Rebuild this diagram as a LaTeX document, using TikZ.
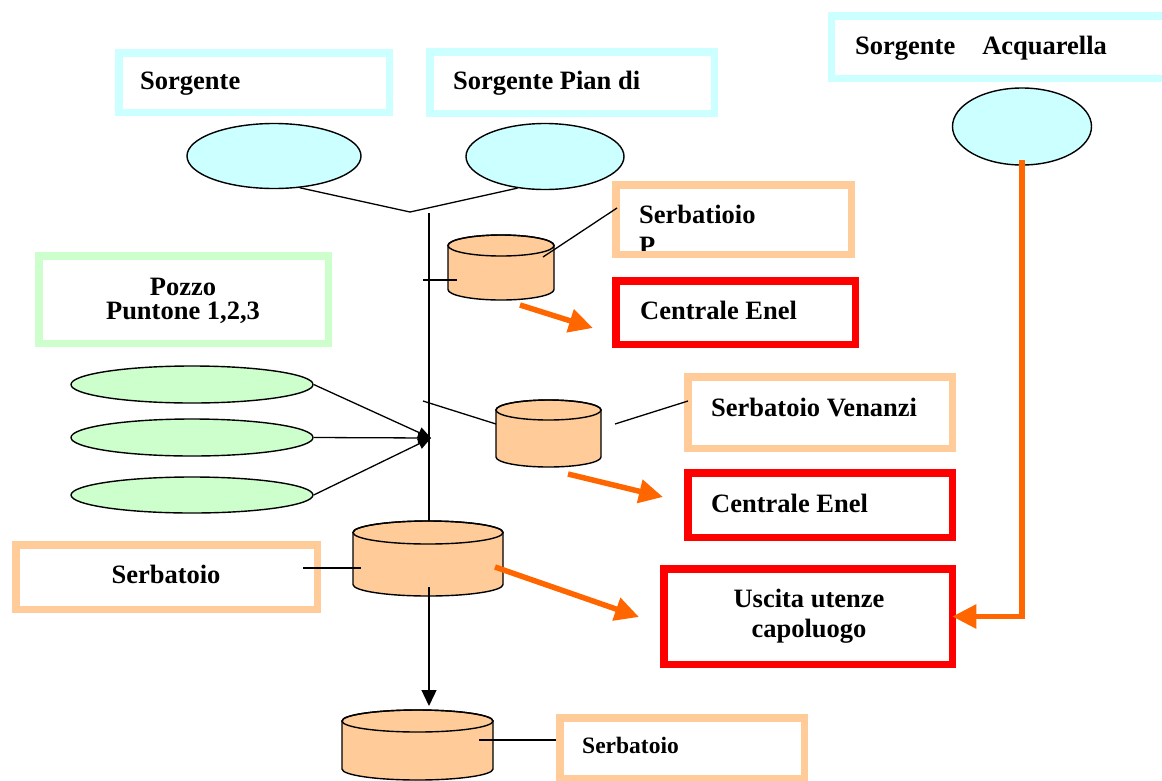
\documentclass[tikz,border=0pt]{standalone}
\usepackage{fontspec}
\setmainfont{Liberation Serif}
\usetikzlibrary{arrows.meta,shapes.geometric}
\definecolor{cyanb}{HTML}{CCFFFF}
\definecolor{greenb}{HTML}{CCFFCC}
\definecolor{orangeb}{HTML}{FFCC99}
\definecolor{redb}{HTML}{FF0000}
\definecolor{orangea}{HTML}{FF6600}
\tikzset{
  box/.style={draw, line width=7.5pt, inner sep=0pt, outer sep=0pt},
  cyanbox/.style={box, draw=cyanb},
  greenbox/.style={box, draw=greenb},
  orangebox/.style={box, draw=orangeb},
  redbox/.style={box, draw=redb},
  lbl/.style={font=\fontsize{26.5}{30}\selectfont\bfseries, inner sep=0pt, anchor=base west},
  clbl/.style={font=\fontsize{26.5}{24}\selectfont\bfseries, inner sep=0pt, align=center},
  blueell/.style={ellipse, draw, line width=1.4pt, fill=cyanb, inner sep=0pt},
  greenell/.style={ellipse, draw, line width=1.4pt, fill=greenb, inner sep=0pt},
  tankfill/.style={fill=orangeb, draw=black, line width=1.4pt},
  conn/.style={draw=black, line width=1.3pt},
  darrow/.style={conn, -{Triangle[length=16pt,width=15pt]}},
  garrow/.style={conn, -{Triangle[length=13pt,width=11pt]}},
  oarrow/.style={draw=orangea, line width=5.5pt, -{Triangle[length=24pt,width=23pt]}},
}
\newcommand\drawtank[6]{%
  \filldraw[tankfill] (#2-#5,#3) -- (#2-#5,#4)
    arc[start angle=180,end angle=0,x radius=#5,y radius=#6]
    -- (#2+#5,#3) arc[start angle=0,end angle=-180,x radius=#5,y radius=#6] -- cycle;
  \draw[line width=1.4pt] (#2,#3) ellipse[x radius=#5,y radius=#6];
  \node[inner sep=0pt, outer sep=0pt, minimum width=2*#5, minimum height=#4-#3+2*#6] (#1) at (#2,{(#3+#4)/2}) {};
}
\begin{document}
\begin{tikzpicture}[x=1pt,y=1pt,yscale=-1]
\useasboundingbox (0,0) rectangle (1162,780);
\clip (0,0) rectangle (1162,780);

% boxes
\node[cyanbox, minimum width=270.5, minimum height=59.5] (b1) at (254,82.5) {};
\node[cyanbox, minimum width=284.5, minimum height=61.5] (b2) at (572,82.5) {};
\node[cyanbox, minimum width=377, minimum height=62.5] (b3) at (1020,47) {};
\node[orangebox, minimum width=235.5, minimum height=69.5] (b4) at (733.5,219.5) {};
\node[redbox, minimum width=239.5, minimum height=63.5] (b5) at (735.5,312.5) {};
\node[greenbox, minimum width=289.5, minimum height=87.5] (b6) at (183.5,299.5) {};
\node[orangebox, minimum width=264.5, minimum height=71.5] (b7) at (820,412.5) {};
\node[redbox, minimum width=264.5, minimum height=64.5] (b8) at (820,505) {};
\node[redbox, minimum width=288.5, minimum height=95.5] (b9) at (808,616.5) {};
\node[orangebox, minimum width=301.5, minimum height=64.5] (b10) at (166.5,577) {};
\node[orangebox, minimum width=244.5, minimum height=60.5] (b11) at (682,748) {};

% texts
\node[lbl] (t-b1) at (140,89) {Sorgente};
\node[lbl] (t-b2) at (453,89) {Sorgente Pian di};
\node[lbl] (t-b3) at (855,54) {Sorgente\hspace{27pt}Acquarella};
\node[lbl] (t-b4) at (639,223) {Serbatioio};
\begin{scope}
  \clip (615,184) rectangle (852,250);
  \node[lbl] (t-b4b) at (639,254) {P};
\end{scope}
\node[lbl] (t-b5) at (640,319) {Centrale Enel};
\node[clbl, anchor=base] (t-b6) at (183,319) {Pozzo\\Puntone 1,2,3};
\node[lbl] (t-b7) at (711,416) {Serbatoio Venanzi};
\node[lbl] (t-b8) at (711,512) {Centrale Enel};
\node[font=\fontsize{26.5}{30}\selectfont\bfseries, inner sep=0pt, align=center, anchor=base] (t-b9) at (809,637) {Uscita utenze\\capoluogo};
\node[lbl, anchor=base] (t-b10) at (166,583) {Serbatoio};
\node[lbl, font=\fontsize{23.5}{28}\selectfont\bfseries] (t-b11) at (582,753) {Serbatoio};

% ellipses
\node[blueell, minimum width=174, minimum height=65] (e1) at (274,156) {};
\node[blueell, minimum width=158, minimum height=66] (e2) at (545,156.5) {};
\node[blueell, minimum width=139, minimum height=77] (e3) at (1022,126.5) {};
\node[greenell, minimum width=242, minimum height=37] (g1) at (192,384.5) {};
\node[greenell, minimum width=242, minimum height=37] (g2) at (192,437.5) {};
\node[greenell, minimum width=242, minimum height=36] (g3) at (192,495) {};

% tanks
\drawtank{t1}{501}{245.5}{289.5}{53}{10.5}
\drawtank{t2}{548.5}{410}{457}{52.5}{10}
\drawtank{t3}{428}{532.5}{584.5}{75}{11.5}
\drawtank{t4}{417.5}{721}{769}{75.5}{11}

% black connectors
\coordinate (vj) at (410,212);
\coordinate (vtop) at (429,213);
\coordinate (vbot) at (429,521);
\path[conn] (e1.-51) -- (vj) -- (e2.-131);
\path[conn] (vtop) -- (vbot);
\coordinate (k1a) at (423,280); \coordinate (k1b) at (457,280);
\path[conn] (k1a) -- (k1b);
\coordinate (c1a) at (543,257); \coordinate (c1b) at (617,208);
\path[conn] (c1a) -- (c1b);
\coordinate (k2a) at (423,401); \coordinate (k2b) at (496,424);
\path[conn] (k2a) -- (k2b);
\coordinate (c2a) at (615,424); \coordinate (c2b) at (688,401);
\path[conn] (c2a) -- (c2b);
\coordinate (c3a) at (303,568); \coordinate (c3b) at (361,568);
\path[conn] (c3a) -- (c3b);
\coordinate (c4a) at (479,740); \coordinate (c4b) at (556,740);
\path[conn] (c4a) -- (c4b);
\coordinate (d1) at (429,587); \coordinate (d2) at (429,706);
\path[darrow] (d1) -- (d2);
\coordinate (gj) at (431,438);
\path[garrow] (g1.east) -- (gj);
\path[garrow] (g2.east) -- (gj);
\path[garrow] (g3.east) -- (gj);

% orange arrows
\coordinate (o1a) at (520,305); \coordinate (o1b) at (593,328);
\path[oarrow] (o1a) -- (o1b);
\coordinate (o2a) at (568,474); \coordinate (o2b) at (663,497);
\path[oarrow] (o2a) -- (o2b);
\coordinate (o3a) at (495,567); \coordinate (o3b) at (639,617);
\path[oarrow] (o3a) -- (o3b);
\coordinate (acq) at (1022,163);
\path[oarrow, line cap=rect] (acq) |- (b9.east);
\end{tikzpicture}
\end{document}
